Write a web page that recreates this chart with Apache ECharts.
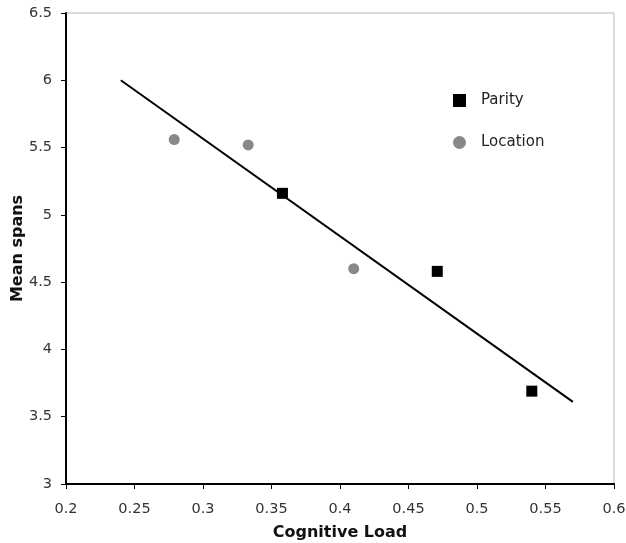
<!DOCTYPE html>
<html>
<head>
<meta charset="utf-8">
<script src="https://cdn.jsdelivr.net/npm/echarts@6/dist/echarts.min.js"></script>
<style>
  html, body { margin: 0; padding: 0; background: #fff; }
  #chart { width: 626px; height: 543px; }
</style>
</head>
<body>
<div id="chart"></div>
<script>
// points
var parityPoints = [[0.358, 5.16], [0.471, 4.58], [0.540, 3.69]];
var locationPoints = [[0.279, 5.56], [0.333, 5.52], [0.410, 4.60]];
// fitted line, two end points
var fitLine = [[0.24, 6.0], [0.57, 3.61]];

var xMin = 0.2, xMax = 0.6, xStep = 0.05;
var yMin = 3, yMax = 6.5, yStep = 0.5;

var font = 'DejaVu Sans, Verdana, sans-serif';
var chart = echarts.init(document.getElementById('chart'));

var option = {
    backgroundColor: '#fff',
    animation: false,
    grid: {
        left: 66,
        top: 13,
        right: 12,
        bottom: 59,
        containLabel: false,
        outerBoundsMode: 'none',
        show: true,
        borderColor: '#b8b8b8',
        borderWidth: 1
    },
    legend: {
        orient: 'vertical',
        left: 448,
        top: 88,
        itemGap: 27,
        itemWidth: 13,
        itemHeight: 13,
        textStyle: { fontFamily: font, fontSize: 15, color: '#222', padding: [0, 0, 0, 10] },
        data: [
            { name: 'Parity', icon: 'rect', itemStyle: { color: '#000' } },
            { name: 'Location', icon: 'circle', itemStyle: { color: '#888' } }
        ]
    },
    xAxis: {
        type: 'value',
        min: xMin,
        max: xMax,
        interval: xStep,
        name: 'Cognitive Load',
        nameLocation: 'middle',
        nameGap: 41,
        nameMoveOverlap: false,
        nameTextStyle: { fontFamily: font, fontSize: 16, fontWeight: 'bold', color: '#111' },
        axisLine: { show: true, lineStyle: { color: '#000', width: 2 } },
        axisTick: { show: true, length: 5, lineStyle: { color: '#000', width: 1 } },
        axisLabel: {
            fontFamily: font, fontSize: 14.5, color: '#333', margin: 18,
            formatter: function (v) { return String(+v.toFixed(2)); }
        },
        splitLine: { show: false }
    },
    yAxis: {
        type: 'value',
        min: yMin,
        max: yMax,
        interval: yStep,
        name: 'Mean spans',
        nameLocation: 'middle',
        nameGap: 40,
        nameMoveOverlap: false,
        nameTextStyle: { fontFamily: font, fontSize: 16, fontWeight: 'bold', color: '#111' },
        axisLine: { show: true, lineStyle: { color: '#000', width: 2 } },
        axisTick: { show: true, length: 5, lineStyle: { color: '#000', width: 1 } },
        axisLabel: {
            fontFamily: font, fontSize: 14.5, color: '#333', margin: 14,
            formatter: function (v) { return String(+v.toFixed(1)); }
        },
        splitLine: { show: false }
    },
    series: [
        {
            name: 'fit',
            type: 'line',
            data: fitLine,
            symbol: 'none',
            lineStyle: { color: '#000', width: 2 },
            z: 1
        },
        {
            name: 'Parity',
            type: 'scatter',
            data: parityPoints,
            symbol: 'rect',
            symbolSize: 11,
            itemStyle: { color: '#000', opacity: 1 },
            z: 3
        },
        {
            name: 'Location',
            type: 'scatter',
            data: locationPoints,
            symbol: 'circle',
            symbolSize: 11,
            itemStyle: { color: '#888', opacity: 1 },
            z: 3
        }
    ]
};
chart.setOption(option);
</script>
</body>
</html>
